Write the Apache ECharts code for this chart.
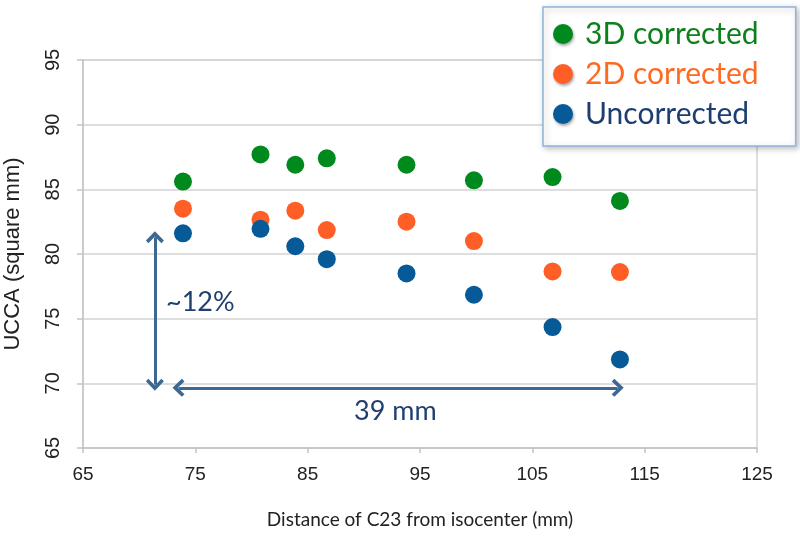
<!DOCTYPE html>
<html>
<head>
<meta charset="utf-8">
<script src="https://cdn.jsdelivr.net/npm/echarts@6/dist/echarts.min.js"></script>
<style>html,body{margin:0;padding:0;background:#fff}#c{width:800px;height:540px}</style>
</head>
<body>
<div id="c"></div>
<script>
// Data
const distance = [73.9, 80.8, 83.9, 86.7, 93.8, 99.8, 106.8, 112.8];
const corrected3D = [85.6, 87.7, 86.9, 87.4, 86.9, 85.7, 85.95, 84.1];
const corrected2D = [83.5, 82.65, 83.35, 81.85, 82.5, 81.0, 78.65, 78.6];
const uncorrected = [81.6, 81.95, 80.6, 79.6, 78.5, 76.85, 74.35, 71.85];
const seriesNames = ['3D corrected', '2D corrected', 'Uncorrected'];
const xTicks = {min: 65, max: 125, interval: 10};
const yTicks = {min: 65, max: 95, interval: 5};

const pts = arr => distance.map((x, i) => [x, arr[i]]);
const markerColors = ['#00891c', '#ff5f26', '#055a97'];
const legendTextColors = ['#0d7f1b', '#ff6a22', '#1c3e70'];
const arrowColor = '#3c6893';
const chevron = 'path://M10,0 L20,10 L17.2,12.8 L10,5.6 L2.8,12.8 L0,10 Z';

const chart = echarts.init(document.getElementById('c'));
chart.setOption({
  animation: false,
  grid: {left: 83, right: 43, top: 60, bottom: 92, show: true, borderColor: '#d3d3d3', borderWidth: 1.5,
         containLabel: false, outerBoundsMode: 'none'},
  legend: {
    data: seriesNames.map((n, i) => ({name: n, textStyle: {color: legendTextColors[i]}})),
    orient: 'vertical', left: 543, top: 7,
    padding: [12, 37, 17, 10],
    itemWidth: 20, itemHeight: 20, itemGap: 10,
    icon: 'circle',
    backgroundColor: '#fff', borderColor: '#8eb4df', borderWidth: 1.5,
    shadowBlur: 6, shadowColor: 'rgba(0,0,0,0.25)', shadowOffsetX: 2, shadowOffsetY: 2,
    itemStyle: {shadowBlur: 3, shadowColor: 'rgba(0,0,0,0.35)', shadowOffsetX: 1, shadowOffsetY: 2},
    textStyle: {fontFamily: 'Lato', fontSize: 30, lineHeight: 30, padding: [0, 0, 0, 7]}
  },
  xAxis: {
    type: 'value', min: xTicks.min, max: xTicks.max, interval: xTicks.interval,
    name: 'Distance of C23 from isocenter (mm)', nameLocation: 'middle', nameGap: 62,
    nameTextStyle: {fontFamily: 'Lato', fontSize: 19, color: '#222'},
    axisLine: {show: true, lineStyle: {color: '#c4c4c4', width: 1.5}},
    axisTick: {show: true, length: 5, lineStyle: {color: '#c4c4c4', width: 1.5}},
    axisLabel: {fontFamily: 'Liberation Sans Narrow, Liberation Sans', fontSize: 19, color: '#222', margin: 17},
    splitLine: {show: false}
  },
  yAxis: {
    type: 'value', min: yTicks.min, max: yTicks.max, interval: yTicks.interval,
    name: 'UCCA (square mm)', nameLocation: 'middle', nameGap: 59, nameRotate: 90,
    nameTextStyle: {fontFamily: 'Liberation Sans', fontSize: 22, color: '#222'},
    axisLine: {show: true, lineStyle: {color: '#c4c4c4', width: 1.5}},
    axisTick: {show: true, length: 6, lineStyle: {color: '#c4c4c4', width: 1.5}},
    axisLabel: {fontFamily: 'Liberation Sans', fontSize: 20, color: '#222', rotate: 90, margin: 20},
    splitLine: {show: true, lineStyle: {color: '#d3d3d3', width: 1.5}}
  },
  series: [
    {name: seriesNames[0], type: 'scatter', symbolSize: 18, data: pts(corrected3D), itemStyle: {color: markerColors[0], opacity: 1}},
    {name: seriesNames[1], type: 'scatter', symbolSize: 18, data: pts(corrected2D), itemStyle: {color: markerColors[1], opacity: 1}},
    {name: seriesNames[2], type: 'scatter', symbolSize: 18, data: pts(uncorrected), itemStyle: {color: markerColors[2], opacity: 1}},
    {
      name: 'annotations', type: 'scatter', data: [], silent: true,
      markLine: {
        silent: true, animation: false,
        symbol: [chevron, chevron], symbolSize: [18, 12],
        lineStyle: {color: arrowColor, width: 3, type: 'solid'},
        label: {show: false},
        data: [
          [{coord: [71.4, 81.3]}, {coord: [71.4, 69.9]}],
          [{coord: [73.5, 69.65]}, {coord: [112.6, 69.65]}]
        ]
      }
    }
  ],
  graphic: [
    {type: 'text', left: 166, top: 289, style: {text: '~12%', fontFamily: 'Lato', fontSize: 27, fill: '#1f3f6e'}},
    {type: 'text', left: 354, top: 398, style: {text: '39 mm', fontFamily: 'Lato', fontSize: 27, fill: '#1f3f6e'}}
  ]
});
</script>
</body>
</html>
